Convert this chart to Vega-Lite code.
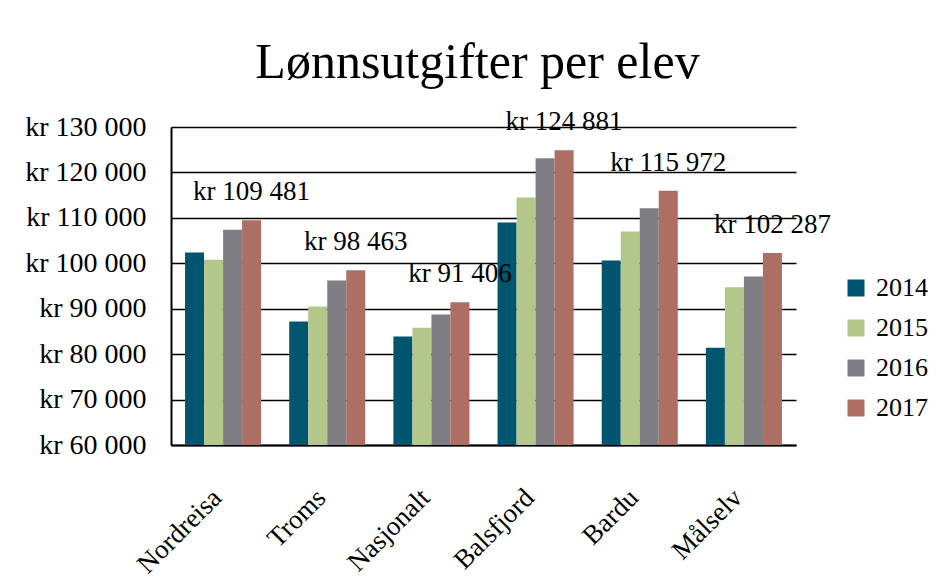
{
  "$schema": "https://vega.github.io/schema/vega-lite/v6.json",
  "width": 625,
  "height": 318,
  "autosize": "none",
  "padding": {"left": 171, "top": 127, "right": 148, "bottom": 135},
  "background": "white",
  "title": {
    "text": "Lønnsutgifter per elev",
    "fontSize": 50,
    "font": "Liberation Serif",
    "fontWeight": "normal",
    "color": "black",
    "baseline": "alphabetic",
    "anchor": "middle",
    "frame": "group",
    "dx": -6,
    "offset": -20
  },
  "data": {
    "values": [
      {"region": "Nordreisa", "year": "2014", "value": 102400},
      {"region": "Nordreisa", "year": "2015", "value": 100800},
      {"region": "Nordreisa", "year": "2016", "value": 107400},
      {"region": "Nordreisa", "year": "2017", "value": 109481},
      {"region": "Troms", "year": "2014", "value": 87200},
      {"region": "Troms", "year": "2015", "value": 90500},
      {"region": "Troms", "year": "2016", "value": 96200},
      {"region": "Troms", "year": "2017", "value": 98463},
      {"region": "Nasjonalt", "year": "2014", "value": 83900},
      {"region": "Nasjonalt", "year": "2015", "value": 85800},
      {"region": "Nasjonalt", "year": "2016", "value": 88700},
      {"region": "Nasjonalt", "year": "2017", "value": 91406},
      {"region": "Balsfjord", "year": "2014", "value": 109000},
      {"region": "Balsfjord", "year": "2015", "value": 114500},
      {"region": "Balsfjord", "year": "2016", "value": 123100},
      {"region": "Balsfjord", "year": "2017", "value": 124881},
      {"region": "Bardu", "year": "2014", "value": 100600},
      {"region": "Bardu", "year": "2015", "value": 107000},
      {"region": "Bardu", "year": "2016", "value": 112100},
      {"region": "Bardu", "year": "2017", "value": 115972},
      {"region": "Målselv", "year": "2014", "value": 81400},
      {"region": "Målselv", "year": "2015", "value": 94700},
      {"region": "Målselv", "year": "2016", "value": 97100},
      {"region": "Målselv", "year": "2017", "value": 102287}
    ]
  },
  "encoding": {
    "x": {
      "field": "region",
      "type": "nominal",
      "sort": ["Nordreisa", "Troms", "Nasjonalt", "Balsfjord", "Bardu", "Målselv"],
      "scale": {"paddingInner": 0.27, "paddingOuter": 0.135},
      "axis": {
        "title": null,
        "labelAngle": -45,
        "labelAlign": "right",
        "labelBaseline": "alphabetic",
        "labelPadding": 54,
        "ticks": false,
        "labelFontSize": 27,
        "domainColor": "black",
        "domainWidth": 2
      }
    },
    "xOffset": {"field": "year", "type": "nominal", "scale": {"paddingInner": 0, "paddingOuter": 0}},
    "y": {
      "field": "value",
      "type": "quantitative",
      "scale": {"domain": [60000, 130000], "nice": false, "zero": false},
      "axis": {
        "title": null,
        "values": [60000, 70000, 80000, 90000, 100000, 110000, 120000, 130000],
        "format": "$,d",
        "labelPadding": 25,
        "ticks": false,
        "labelFontSize": 28,
        "grid": true,
        "gridColor": "black",
        "gridWidth": 1.6,
        "gridOpacity": 1,
        "domainColor": "black",
        "domainWidth": 2
      }
    }
  },
  "layer": [
    {
      "mark": {"type": "bar", "clip": true},
      "encoding": {
        "y2": {"datum": 60000},
        "color": {
          "field": "year",
          "type": "nominal",
          "scale": {"domain": ["2014", "2015", "2016", "2017"], "range": ["#01556F", "#B3C78B", "#7F7E85", "#AD6F64"]},
          "legend": {
            "title": null,
            "orient": "none",
            "legendX": 672,
            "legendY": 148,
            "symbolType": "square",
            "symbolSize": 289,
            "symbolStrokeWidth": 0,
            "labelFontSize": 26,
            "labelColor": "black",
            "labelOffset": 7,
            "rowPadding": 14
          }
        }
      }
    },
    {
      "transform": [{"filter": "datum.year === '2017'"}],
      "mark": {"type": "text", "baseline": "middle", "align": "center", "dy": -28, "fontSize": 27, "color": "black"},
      "encoding": {
        "text": {"field": "value", "type": "quantitative", "format": "$,d"}
      }
    }
  ],
  "config": {
    "font": "Liberation Serif",
    "locale": {
      "number": {"decimal": ",", "thousands": " ", "grouping": [3], "currency": ["kr ", ""]}
    },
    "axis": {"labelColor": "black", "labelFont": "Liberation Serif"},
    "legend": {"labelFont": "Liberation Serif"},
    "view": {"stroke": null}
  }
}
